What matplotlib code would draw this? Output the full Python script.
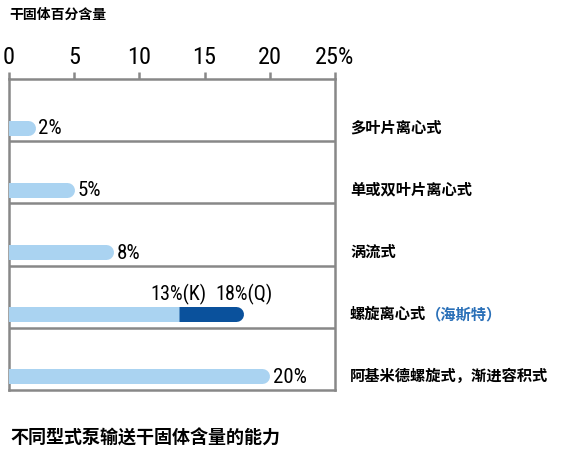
import matplotlib.pyplot as plt

categories = ["多叶片离心式", "单或双叶片离心式", "涡流式", "螺旋离心式", "阿基米德螺旋式，渐进容积式"]
values = [2, 5, 8, 13, 20]
value_labels = ["2%", "5%", "8%", "13%(K)", "20%"]
spiral_q = 18
spiral_q_label = "18%(Q)"
spiral_note = "（海斯特）"
ticks = [0, 5, 10, 15, 20, 25]
tick_labels = ["0", "5", "10", "15", "20", "25%"]

light = "#aad3f1"
dark = "#0a519c"
grey = "#888888"
num_font = ["Roboto Condensed", "Liberation Sans", "DejaVu Sans"]
cjk_font = ["Noto Sans CJK SC", "DejaVu Sans"]

fig = plt.figure(figsize=(5.69, 4.74), dpi=100)
ax_w = 0.573
ax = fig.add_axes([0.0158, 0.1772, ax_w, 0.6561])
ax.set_xlim(0, 25)
ax.set_ylim(5, 0)

bar_lw = 10.8  # points, ~15px
cap = 7.5 / (ax_w * 569 / 25)  # round cap radius in data units

for i, (v, lab) in enumerate(zip(values, value_labels)):
    y = i + 0.78
    if i == 3:
        # two-part bar: light to K, dark from K to Q
        ax.plot([v, spiral_q - cap], [y, y], color=dark, lw=bar_lw,
                solid_capstyle="round", zorder=2)
        ax.plot([-1, v], [y, y], color=light, lw=bar_lw,
                solid_capstyle="butt", zorder=3)
        ax.text(v, y - 0.31, lab, ha="center", va="center",
                fontsize=14.5, family=num_font)
        ax.text(spiral_q, y - 0.31, spiral_q_label, ha="center", va="center",
                fontsize=14.5, family=num_font)
    else:
        ax.plot([-1, v - cap], [y, y], color=light, lw=bar_lw,
                solid_capstyle="round", zorder=3)
        ax.text(v + 0.25, y + 0.02, lab, ha="left", va="center",
                fontsize=15, family=num_font)
    t = ax.text(26.15, y, categories[i], ha="left", va="center", fontsize=11,
                fontweight="bold", family=cjk_font, clip_on=False)
    if i == 3:
        ax.annotate(spiral_note, xy=(1, 0.5), xycoords=t, ha="left", va="center",
                    fontsize=11, fontweight="bold", color="#2a70b8", family=cjk_font)

# row separators
for b in range(1, 5):
    ax.axhline(b, color=grey, lw=1.8, zorder=1)

for s in ax.spines.values():
    s.set_color(grey)
    s.set_linewidth(1.8)

ax.xaxis.tick_top()
ax.set_xticks(ticks)
ax.set_xticklabels(tick_labels, family=num_font, fontsize=17.5)
ax.tick_params(axis="x", length=5, width=1.8, color=grey, pad=2)
ax.set_yticks([])

fig.text(0.016, 0.968, "干固体百分含量", fontsize=10, fontweight="bold",
         family=cjk_font, ha="left", va="center")
fig.text(0.018, 0.076, "不同型式泵输送干固体含量的能力", fontsize=13, fontweight="bold",
         family=cjk_font, ha="left", va="center")

fig.savefig("out.png", dpi=100)
